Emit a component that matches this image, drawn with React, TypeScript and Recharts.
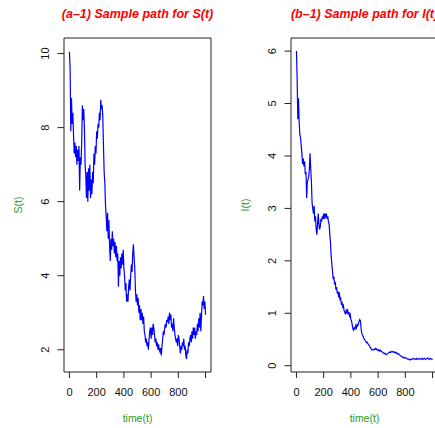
import React from 'react';
import { LineChart, Line, XAxis, YAxis, ReferenceArea } from 'recharts';

// time grid of the simulated paths (step 5)
const TIME = Array.from({ length: 201 }, (_, i) => i * 5);

// S(t)
const S_VALUES = [
  10.05, 9.6, 7.9, 8.8, 8.1, 8.4, 7.8, 7.3, 7.6, 7.2, 7.5, 7.0, 7.4, 7.1, 7.5, 6.3, 7.2, 7.0, 7.6, 8.6,
  8.2, 8.5, 8.0, 7.0, 6.7, 6.1, 6.8, 6.0, 6.9, 6.3, 7.0, 6.1, 6.6, 6.2, 6.8, 6.5, 7.3, 7.0, 7.5, 7.3,
  7.9, 7.7, 8.1, 8.0, 8.4, 8.2, 8.75, 8.5, 8.6, 8.3, 7.5, 6.8, 6.5, 5.9, 5.6, 5.2, 5.7, 5.0, 5.5, 4.8,
  4.4, 5.0, 4.7, 5.2, 4.8, 5.0, 4.6, 4.9, 4.5, 4.8, 4.4, 4.6, 3.7, 4.4, 4.0, 4.5, 4.2, 4.6, 4.3, 4.7,
  4.2, 4.0, 3.6, 3.8, 3.3, 3.5, 3.3, 3.7, 3.9, 3.6, 4.0, 4.3, 4.1, 4.6, 4.85, 4.5, 4.2, 3.6, 3.3, 3.5,
  3.2, 3.4, 3.0, 3.2, 2.8, 3.1, 2.8, 3.0, 2.7, 2.9, 2.5, 2.4, 2.2, 2.3, 2.1, 2.2, 2.0, 2.3, 2.5, 2.6,
  2.3, 2.6, 2.4, 2.7, 2.6, 2.4, 2.2, 2.3, 2.1, 2.2, 2.0, 2.15, 2.0, 1.95, 2.05, 1.85, 2.1, 2.3, 2.5, 2.4,
  2.6, 2.7, 2.6, 2.8, 2.75, 2.9, 2.7, 3.0, 2.8, 2.95, 2.6, 2.7, 2.5, 2.85, 2.6, 2.4, 2.3, 2.2, 2.3, 2.1,
  2.4, 2.3, 2.1, 1.9, 2.1, 2.0, 2.2, 2.1, 2.3, 2.0, 2.1, 1.85, 1.75, 2.0, 1.9, 2.2, 2.1, 2.3, 2.4, 2.2,
  2.5, 2.3, 2.6, 2.4, 2.6, 2.3, 2.5, 2.4, 2.7, 2.5, 2.85, 2.6, 3.0, 2.5, 2.9, 3.3, 3.2, 3.45, 3.1, 3.3,
  2.95,
];

// I(t)
const I_VALUES = [
  6.0, 5.5, 4.7, 5.1, 4.65, 4.4, 4.35, 4.2, 4.05, 3.85, 3.95, 3.8, 3.9, 3.65, 3.7, 3.2, 3.5, 3.55, 3.6, 3.75,
  4.05, 3.75, 3.5, 3.1, 3.0, 2.9, 3.05, 2.75, 2.85, 2.6, 2.5, 2.7, 2.9, 2.7, 2.6, 2.65, 2.8, 2.75, 2.85, 2.8,
  2.9, 2.8, 2.9, 2.85, 2.9, 2.8, 2.85, 2.75, 2.7, 2.5, 2.35, 2.1, 1.95, 1.8, 1.65, 1.7, 1.55, 1.6, 1.45, 1.5,
  1.38, 1.42, 1.3, 1.4, 1.25, 1.28, 1.18, 1.2, 1.12, 1.15, 1.05, 1.02, 0.98, 1.05, 1.02, 1.08, 0.98, 1.02, 0.95, 0.98,
  0.88, 0.85, 0.78, 0.7, 0.68, 0.72, 0.7, 0.76, 0.72, 0.78, 0.76, 0.8, 0.84, 0.88, 0.86, 0.7, 0.62, 0.58, 0.56, 0.52,
  0.5, 0.48, 0.46, 0.44, 0.45, 0.42, 0.4, 0.38, 0.36, 0.34, 0.32, 0.3, 0.3, 0.31, 0.3, 0.32, 0.33, 0.31, 0.32, 0.3,
  0.29, 0.3, 0.28, 0.3, 0.28, 0.27, 0.26, 0.25, 0.24, 0.23, 0.24, 0.22, 0.21, 0.22, 0.23, 0.24, 0.25, 0.26, 0.25, 0.26,
  0.27, 0.26, 0.27, 0.26, 0.25, 0.26, 0.24, 0.25, 0.23, 0.22, 0.23, 0.21, 0.2, 0.19, 0.18, 0.17, 0.16, 0.15, 0.16, 0.15,
  0.14, 0.15, 0.14, 0.13, 0.12, 0.13, 0.12, 0.11, 0.12, 0.13, 0.12, 0.13, 0.14, 0.13, 0.12, 0.13, 0.12, 0.14, 0.13, 0.12,
  0.13, 0.14, 0.13, 0.12, 0.13, 0.14, 0.12, 0.13, 0.14, 0.13, 0.12, 0.13, 0.14, 0.15, 0.13, 0.12, 0.13, 0.14, 0.13, 0.12,
  0.13,
];

const X_TICKS = [0, 200, 400, 600, 800, 1000];
const X_TICK_LABELS = ['0', '200', '400', '600', '800', ''];
const S_TICKS = [2, 4, 6, 8, 10];
const I_TICKS = [0, 1, 2, 3, 4, 5, 6];

const FONT = '"Liberation Sans", Arial, Helvetica, sans-serif';
const GREEN = '#2a9a2a';

const XTick = (props: any) => {
  const { x, y, payload, index } = props;
  return (
    <g>
      <line x1={x} y1={y} x2={x} y2={y + 6} stroke="#222" />
      <text x={x} y={y + 24} textAnchor="middle" fontSize={11} fontFamily={FONT} fill="#111">
        {X_TICK_LABELS[index] ?? payload.value}
      </text>
    </g>
  );
};

const YTick = (props: any) => {
  const { x, y, payload } = props;
  return (
    <g>
      <line x1={x - 6.5} y1={y} x2={x} y2={y} stroke="#222" />
      <text
        x={x - 15}
        y={y}
        textAnchor="middle"
        fontSize={11}
        fontFamily={FONT}
        fill="#111"
        transform={`rotate(-90, ${x - 15}, ${y})`}
      >
        {payload.value}
      </text>
    </g>
  );
};

interface PanelProps {
  title: string;
  yName: string;
  values: number[];
  yDomain: [number, number];
  yTicks: number[];
  left: number;
}

const Panel: React.FC<PanelProps> = ({ title, yName, values, yDomain, yTicks, left }) => {
  const data = TIME.map((t, i) => ({ t, v: values[i] }));
  return (
    <div style={{ position: 'absolute', left, top: 0, width: 227, height: 428 }}>
      <div
        style={{
          position: 'absolute',
          left: 64,
          top: 7.5,
          width: 147,
          textAlign: 'center',
          whiteSpace: 'nowrap',
          fontFamily: FONT,
          fontSize: 12.5,
          lineHeight: '12.5px',
          fontWeight: 'bold',
          fontStyle: 'italic',
          color: '#ff0000',
          display: 'flex',
          justifyContent: 'center',
        }}
      >
        <span>{title}</span>
      </div>
      <LineChart width={227} height={428} data={data} margin={{ top: 38, right: 16, bottom: 0, left: 0 }}>
        <XAxis
          dataKey="t"
          type="number"
          domain={[-40, 1040]}
          allowDataOverflow
          ticks={X_TICKS}
          interval={0}
          tick={<XTick />}
          tickLine={false}
          axisLine={false}
          tickSize={0}
          tickMargin={0}
          height={56}
          label={{
            content: (p: any) => {
              const vb = p.viewBox;
              return (
                <text
                  x={vb.x + vb.width / 2}
                  y={vb.y + 50}
                  textAnchor="middle"
                  fontSize={10.5}
                  fontFamily={FONT}
                  fill={GREEN}
                >
                  time(t)
                </text>
              );
            },
          }}
        />
        <YAxis
          type="number"
          domain={yDomain}
          allowDataOverflow
          ticks={yTicks}
          interval={0}
          tick={<YTick />}
          tickLine={false}
          axisLine={false}
          tickSize={0}
          tickMargin={0}
          width={64}
          label={{
            content: (p: any) => {
              const vb = p.viewBox;
              const cx = vb.x + 22;
              const cy = vb.y + vb.height / 2;
              return (
                <text
                  x={cx}
                  y={cy}
                  textAnchor="middle"
                  fontSize={10.5}
                  fontFamily={FONT}
                  fill={GREEN}
                  transform={`rotate(-90, ${cx}, ${cy})`}
                >
                  {yName}
                </text>
              );
            },
          }}
        />
        <ReferenceArea
          x1={-40}
          x2={1040}
          y1={yDomain[0]}
          y2={yDomain[1]}
          fill="none"
          stroke="#222"
          strokeWidth={1}
          ifOverflow="visible"
        />
        <Line
          type="linear"
          dataKey="v"
          stroke="#0000ff"
          strokeWidth={1.2}
          dot={false}
          isAnimationActive={false}
        />
      </LineChart>
    </div>
  );
};

export default function App() {
  return (
    <div
      style={{
        position: 'fixed',
        left: 0,
        top: 0,
        width: 435,
        height: 428,
        overflow: 'hidden',
        background: '#fff',
      }}
    >
      <Panel title="(a–1) Sample path for S(t)" yName="S(t)" values={S_VALUES} yDomain={[1.4, 10.42]} yTicks={S_TICKS} left={0} />
      <Panel title="(b–1) Sample path for I(t)" yName="I(t)" values={I_VALUES} yDomain={[-0.12, 6.25]} yTicks={I_TICKS} left={227} />
    </div>
  );
}
